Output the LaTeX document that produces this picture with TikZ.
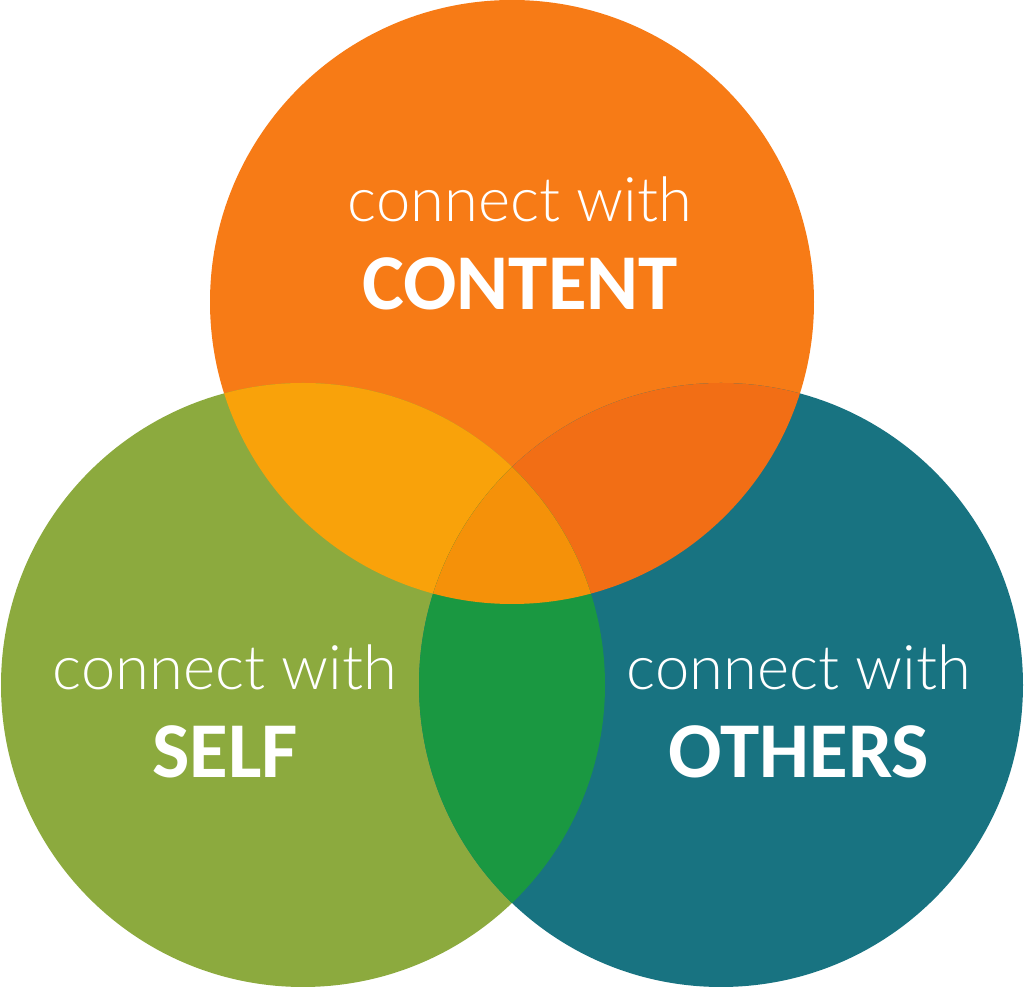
\documentclass[tikz,border=0pt]{standalone}
\usepackage{fontspec}
\setmainfont{Carlito}
\newfontfamily\lightfont{Lato}[UprightFont=* Light]
\usetikzlibrary{positioning}
\definecolor{content}{HTML}{F77B16}
\definecolor{self}{HTML}{8CAA3E}
\definecolor{others}{HTML}{187381}
\definecolor{contentself}{HTML}{F9A20A}
\definecolor{contentothers}{HTML}{F26E15}
\definecolor{selfothers}{HTML}{1A9841}
\definecolor{allthree}{HTML}{F59109}

\begin{document}
\begin{tikzpicture}[auto, node distance=2cm, thick]
    % Define circle and text styles
    \tikzstyle{disc} = [circle, minimum size=6.04cm, inner sep=0pt]
    \tikzstyle{thin text} = [text=white, font=\lightfont\fontsize{17.5}{17.5}\selectfont, anchor=base, inner sep=0pt]
    \tikzstyle{bold text} = [text=white, font=\fontsize{22.5}{22.5}\selectfont\bfseries, inner sep=0pt]
    \useasboundingbox (0,0) rectangle (10.24,9.87);

    % Circles
    \node [disc, fill=content] (content) at (5.12,6.85) {};
    \node [disc, fill=self] (self) at (3.03,3.02) {};
    \node [disc, fill=others] (others) at (7.21,3.02) {};

    % Overlaps
    \begin{scope}
        \clip (content.center) circle (3.02cm);
        \fill [contentself] (self.center) circle (3.02cm);
        \fill [contentothers] (others.center) circle (3.02cm);
    \end{scope}
    \begin{scope}
        \clip (self.center) circle (3.02cm);
        \fill [selfothers] (others.center) circle (3.02cm);
        \clip (others.center) circle (3.02cm);
        \fill [allthree] (content.center) circle (3.02cm);
    \end{scope}

    % Labels
    \node [thin text] (contentA) at (5.2,7.65) {connect with};
    \node [bold text, below=0.88cm of contentA.base, anchor=base] (contentB) {CONTENT};
    \node [thin text] (selfA) at (2.25,2.97) {connect with};
    \node [bold text, below=0.88cm of selfA.base, anchor=base] (selfB) {SELF};
    \node [thin text] (othersA) at (7.99,2.97) {connect with};
    \node [bold text, below=0.88cm of othersA.base, anchor=base] (othersB) {OTHERS};

\end{tikzpicture}
\end{document}
